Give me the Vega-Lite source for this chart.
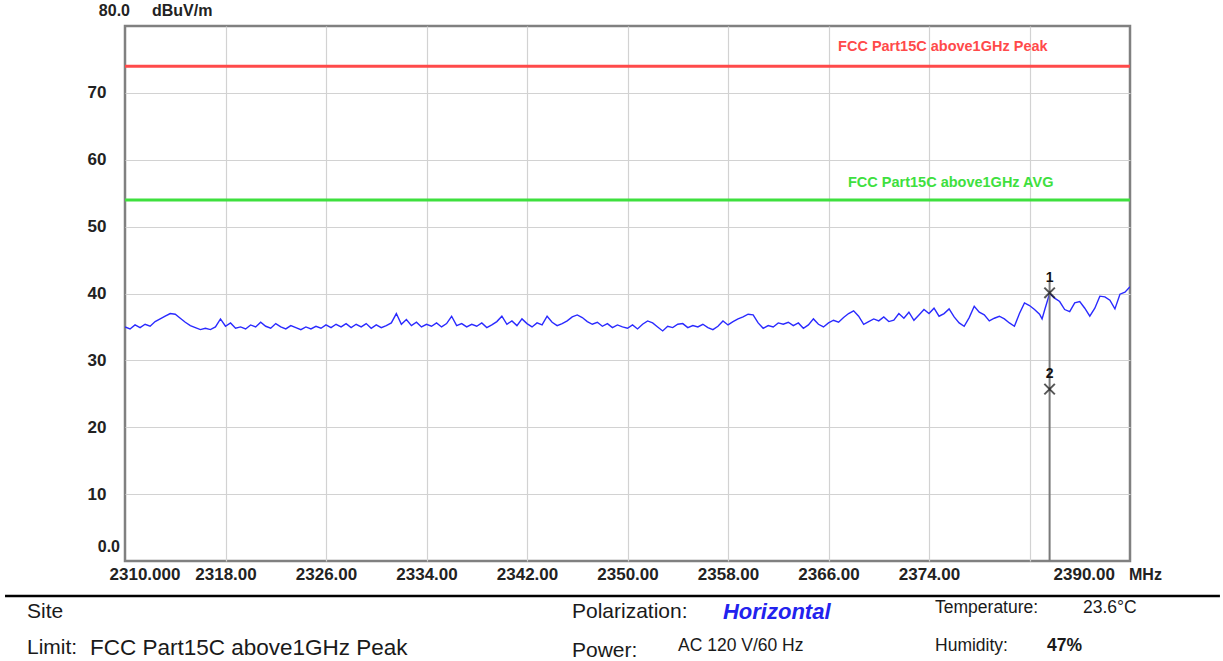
{
  "$schema": "https://vega.github.io/schema/vega-lite/v6.json",
  "autosize": "none",
  "width": 1005,
  "height": 535,
  "padding": {"left": 125, "top": 26, "right": 93, "bottom": 100},
  "background": "white",
  "config": {
    "view": {"stroke": "#808080", "strokeWidth": 2.5},
    "axis": {"domain": false, "ticks": false, "gridColor": "#d2d2d2", "gridWidth": 1.2, "labelFont": "Liberation Sans", "labelFontWeight": "bold", "labelFontSize": 17, "labelColor": "#222222", "title": null}
  },
  "datasets": {
    "trace": [
      {"f":2310.0,"v":35.0},{"f":2310.4,"v":34.7},{"f":2310.8,"v":35.3},{"f":2311.2,"v":34.9},{"f":2311.6,"v":35.4},{"f":2312.0,"v":35.1},{"f":2312.4,"v":35.8},{"f":2312.8,"v":36.2},{"f":2313.2,"v":36.6},{"f":2313.6,"v":37.0},
      {"f":2314.0,"v":36.9},{"f":2314.4,"v":36.3},{"f":2314.8,"v":35.7},{"f":2315.2,"v":35.2},{"f":2315.6,"v":34.9},{"f":2316.0,"v":34.6},{"f":2316.4,"v":34.8},{"f":2316.8,"v":34.6},{"f":2317.2,"v":35.0},{"f":2317.6,"v":36.2},
      {"f":2318.0,"v":35.1},{"f":2318.4,"v":35.6},{"f":2318.8,"v":34.8},{"f":2319.2,"v":35.0},{"f":2319.6,"v":34.7},{"f":2320.0,"v":35.3},{"f":2320.4,"v":35.0},{"f":2320.8,"v":35.7},{"f":2321.2,"v":35.1},{"f":2321.6,"v":34.8},
      {"f":2322.0,"v":35.5},{"f":2322.4,"v":35.0},{"f":2322.8,"v":34.7},{"f":2323.2,"v":35.2},{"f":2323.6,"v":34.9},{"f":2324.0,"v":34.6},{"f":2324.4,"v":35.0},{"f":2324.8,"v":34.7},{"f":2325.2,"v":35.1},{"f":2325.6,"v":34.8},
      {"f":2326.0,"v":35.3},{"f":2326.4,"v":34.9},{"f":2326.8,"v":35.4},{"f":2327.2,"v":35.0},{"f":2327.6,"v":35.5},{"f":2328.0,"v":34.9},{"f":2328.4,"v":35.4},{"f":2328.8,"v":35.0},{"f":2329.2,"v":35.5},{"f":2329.6,"v":34.8},
      {"f":2330.0,"v":35.3},{"f":2330.4,"v":34.9},{"f":2330.8,"v":35.2},{"f":2331.2,"v":35.6},{"f":2331.6,"v":37.0},{"f":2332.0,"v":35.4},{"f":2332.4,"v":36.1},{"f":2332.8,"v":35.2},{"f":2333.2,"v":35.7},{"f":2333.6,"v":35.0},
      {"f":2334.0,"v":35.4},{"f":2334.4,"v":35.1},{"f":2334.8,"v":35.6},{"f":2335.2,"v":35.0},{"f":2335.6,"v":35.5},{"f":2336.0,"v":36.6},{"f":2336.4,"v":35.2},{"f":2336.8,"v":35.5},{"f":2337.2,"v":35.0},{"f":2337.6,"v":35.4},
      {"f":2338.0,"v":35.1},{"f":2338.4,"v":35.6},{"f":2338.8,"v":34.9},{"f":2339.2,"v":35.3},{"f":2339.6,"v":35.8},{"f":2340.0,"v":36.6},{"f":2340.4,"v":35.4},{"f":2340.8,"v":35.9},{"f":2341.2,"v":35.2},{"f":2341.6,"v":36.2},
      {"f":2342.0,"v":35.5},{"f":2342.4,"v":35.0},{"f":2342.8,"v":35.6},{"f":2343.2,"v":35.3},{"f":2343.6,"v":36.6},{"f":2344.0,"v":35.7},{"f":2344.4,"v":35.2},{"f":2344.8,"v":35.5},{"f":2345.2,"v":35.9},{"f":2345.6,"v":36.5},
      {"f":2346.0,"v":36.8},{"f":2346.4,"v":36.4},{"f":2346.8,"v":35.8},{"f":2347.2,"v":35.4},{"f":2347.6,"v":35.7},{"f":2348.0,"v":35.1},{"f":2348.4,"v":35.5},{"f":2348.8,"v":34.9},{"f":2349.2,"v":35.3},{"f":2349.6,"v":35.0},
      {"f":2350.0,"v":34.8},{"f":2350.4,"v":35.3},{"f":2350.8,"v":34.7},{"f":2351.2,"v":35.4},{"f":2351.6,"v":35.9},{"f":2352.0,"v":35.6},{"f":2352.4,"v":35.0},{"f":2352.8,"v":34.4},{"f":2353.2,"v":35.1},{"f":2353.6,"v":34.9},
      {"f":2354.0,"v":35.4},{"f":2354.4,"v":35.5},{"f":2354.8,"v":34.9},{"f":2355.2,"v":35.2},{"f":2355.6,"v":35.0},{"f":2356.0,"v":35.4},{"f":2356.4,"v":34.9},{"f":2356.8,"v":34.6},{"f":2357.2,"v":35.1},{"f":2357.6,"v":35.9},
      {"f":2358.0,"v":35.3},{"f":2358.4,"v":35.8},{"f":2358.8,"v":36.2},{"f":2359.2,"v":36.5},{"f":2359.6,"v":36.9},{"f":2360.0,"v":36.8},{"f":2360.4,"v":35.6},{"f":2360.8,"v":34.8},{"f":2361.2,"v":35.2},{"f":2361.6,"v":35.0},
      {"f":2362.0,"v":35.6},{"f":2362.4,"v":35.4},{"f":2362.8,"v":35.7},{"f":2363.2,"v":35.2},{"f":2363.6,"v":35.6},{"f":2364.0,"v":34.8},{"f":2364.4,"v":35.3},{"f":2364.8,"v":36.2},{"f":2365.2,"v":35.4},{"f":2365.6,"v":35.0},
      {"f":2366.0,"v":35.6},{"f":2366.4,"v":36.0},{"f":2366.8,"v":35.7},{"f":2367.2,"v":36.4},{"f":2367.6,"v":37.0},{"f":2368.0,"v":37.4},{"f":2368.4,"v":36.6},{"f":2368.8,"v":35.4},{"f":2369.2,"v":35.8},{"f":2369.6,"v":36.2},
      {"f":2370.0,"v":35.9},{"f":2370.4,"v":36.5},{"f":2370.8,"v":35.8},{"f":2371.2,"v":36.0},{"f":2371.6,"v":37.0},{"f":2372.0,"v":36.3},{"f":2372.4,"v":37.2},{"f":2372.8,"v":36.0},{"f":2373.2,"v":36.8},{"f":2373.6,"v":37.6},
      {"f":2374.0,"v":37.0},{"f":2374.4,"v":37.8},{"f":2374.8,"v":36.6},{"f":2375.2,"v":37.0},{"f":2375.6,"v":37.7},{"f":2376.0,"v":36.5},{"f":2376.4,"v":35.6},{"f":2376.8,"v":35.1},{"f":2377.2,"v":36.4},{"f":2377.6,"v":38.1},
      {"f":2378.0,"v":37.2},{"f":2378.4,"v":36.8},{"f":2378.8,"v":35.9},{"f":2379.2,"v":36.3},{"f":2379.6,"v":36.6},{"f":2380.0,"v":36.2},{"f":2380.4,"v":35.6},{"f":2380.8,"v":35.1},{"f":2381.2,"v":37.0},{"f":2381.6,"v":38.6},
      {"f":2382.0,"v":38.2},{"f":2382.4,"v":37.6},{"f":2382.8,"v":36.9},{"f":2383.0,"v":36.2},{"f":2383.2,"v":37.5},{"f":2383.6,"v":40.0},{"f":2384.0,"v":39.3},{"f":2384.4,"v":38.8},{"f":2384.8,"v":37.6},{"f":2385.2,"v":37.3},
      {"f":2385.6,"v":38.6},{"f":2386.0,"v":38.8},{"f":2386.4,"v":37.8},{"f":2386.8,"v":36.6},{"f":2387.2,"v":37.8},{"f":2387.6,"v":39.6},{"f":2388.0,"v":39.5},{"f":2388.4,"v":39.0},{"f":2388.8,"v":37.7},{"f":2389.2,"v":39.9},
      {"f":2389.6,"v":40.2},{"f":2390.0,"v":41.0}
    ],
    "limits": [
      {"name": "FCC Part15C above1GHz Peak", "level": 74, "lf": 2366.76, "lv": 76.86},
      {"name": "FCC Part15C above1GHz AVG", "level": 54, "lf": 2367.55, "lv": 56.52}
    ],
    "markers": [
      {"id": "1", "f": 2383.6, "v": 40.1},
      {"id": "2", "f": 2383.6, "v": 25.7}
    ],
    "markerline": [{"f": 2383.6, "v0": 0, "v1": 41.8}],
    "corner": [
      {"t": "80.0", "f": 2310, "v": 80},
      {"t": "dBuV/m", "f": 2310, "v": 80},
      {"t": "0.0", "f": 2310, "v": 0},
      {"t": "2310.000", "f": 2310, "v": 0},
      {"t": "2390.00", "f": 2390, "v": 0},
      {"t": "MHz", "f": 2390, "v": 0}
    ],
    "sep": [{"f0": 2300.45, "f1": 2397.16, "v": -5.23}],
    "footBig": [
      {"t": "Site", "f": 2302.2, "v": -7.63},
      {"t": "Limit:", "f": 2302.2, "v": -13.0},
      {"t": "Polarization:", "f": 2345.58, "v": -7.63},
      {"t": "Power:", "f": 2345.58, "v": -13.45}
    ],
    "footLimit": [
      {"t": "FCC Part15C above1GHz Peak", "f": 2307.21, "v": -13.0}
    ],
    "footBlue": [{"t": "Horizontal", "f": 2357.6, "v": -7.63}],
    "footSmall": [
      {"t": "Temperature:", "f": 2374.48, "v": -7.03},
      {"t": "23.6°C", "f": 2386.26, "v": -7.03},
      {"t": "AC 120 V/60 Hz", "f": 2354.02, "v": -12.71},
      {"t": "Humidity:", "f": 2374.48, "v": -12.71}
    ],
    "footBold": [{"t": "47%", "f": 2383.39, "v": -12.71}]
  },
  "layer": [
    {
      "data": {"name": "trace"},
      "mark": {"type": "line", "color": "#2a2aff", "strokeWidth": 1.4, "clip": true},
      "encoding": {
        "x": {"field": "f", "type": "quantitative", "scale": {"domain": [2310, 2390], "nice": false, "zero": false},
          "axis": {"values": [2318, 2326, 2334, 2342, 2350, 2358, 2366, 2374, 2382], "labelExpr": "datum.value == 2382 ? '' : format(datum.value, '.2f')", "labelPadding": 5, "grid": true}},
        "y": {"field": "v", "type": "quantitative", "scale": {"domain": [0, 80], "nice": false, "zero": true},
          "axis": {"values": [10, 20, 30, 40, 50, 60, 70], "labelPadding": 19, "grid": true}}
      }
    },
    {
      "data": {"name": "limits"},
      "mark": {"type": "rule", "strokeWidth": 3},
      "encoding": {
        "y": {"field": "level", "type": "quantitative"},
        "color": {"field": "name", "type": "nominal", "scale": {"domain": ["FCC Part15C above1GHz Peak", "FCC Part15C above1GHz AVG"], "range": ["#ff4a4a", "#3ee03e"]}, "legend": null}
      }
    },
    {
      "data": {"name": "limits"},
      "mark": {"type": "text", "align": "left", "baseline": "middle", "font": "Liberation Sans", "fontWeight": "bold", "fontSize": 14.5},
      "encoding": {
        "x": {"field": "lf", "type": "quantitative"},
        "y": {"field": "lv", "type": "quantitative"},
        "text": {"field": "name"},
        "color": {"field": "name", "type": "nominal", "scale": {"domain": ["FCC Part15C above1GHz Peak", "FCC Part15C above1GHz AVG"], "range": ["#ff2a2a", "#22dd22"]}, "legend": null}
      }
    },
    {
      "data": {"name": "markerline"},
      "mark": {"type": "rule", "color": "#7a7a7a", "strokeWidth": 2},
      "encoding": {
        "x": {"field": "f", "type": "quantitative"},
        "y": {"field": "v0", "type": "quantitative"},
        "y2": {"field": "v1"}
      }
    },
    {
      "data": {"name": "markers"},
      "mark": {"type": "point", "shape": "M-1,-1L1,1M-1,1L1,-1", "size": 110, "stroke": "#111111", "strokeWidth": 2, "filled": false},
      "encoding": {
        "x": {"field": "f", "type": "quantitative"},
        "y": {"field": "v", "type": "quantitative"}
      }
    },
    {
      "data": {"name": "markers"},
      "mark": {"type": "text", "dy": -15, "font": "Liberation Sans", "fontWeight": "bold", "fontSize": 14, "color": "#111111", "baseline": "middle"},
      "encoding": {
        "x": {"field": "f", "type": "quantitative"},
        "y": {"field": "v", "type": "quantitative"},
        "text": {"field": "id"}
      }
    },
    {
      "data": {"name": "corner"},
      "transform": [{"filter": "datum.t == '80.0'"}],
      "mark": {"type": "text", "align": "right", "baseline": "middle", "dx": 5, "dy": -15, "font": "Liberation Sans", "fontWeight": "bold", "fontSize": 16, "color": "#222222"},
      "encoding": {"x": {"field": "f", "type": "quantitative"}, "y": {"field": "v", "type": "quantitative"}, "text": {"field": "t"}}
    },
    {
      "data": {"name": "corner"},
      "transform": [{"filter": "datum.t == 'dBuV/m'"}],
      "mark": {"type": "text", "align": "left", "baseline": "middle", "dx": 27, "dy": -15, "font": "Liberation Sans", "fontWeight": "bold", "fontSize": 16, "color": "#222222"},
      "encoding": {"x": {"field": "f", "type": "quantitative"}, "y": {"field": "v", "type": "quantitative"}, "text": {"field": "t"}}
    },
    {
      "data": {"name": "corner"},
      "transform": [{"filter": "datum.t == '0.0'"}],
      "mark": {"type": "text", "align": "right", "baseline": "middle", "dx": -5, "dy": -14, "font": "Liberation Sans", "fontWeight": "bold", "fontSize": 16, "color": "#222222"},
      "encoding": {"x": {"field": "f", "type": "quantitative"}, "y": {"field": "v", "type": "quantitative"}, "text": {"field": "t"}}
    },
    {
      "data": {"name": "corner"},
      "transform": [{"filter": "datum.t == '2310.000'"}],
      "mark": {"type": "text", "align": "center", "baseline": "middle", "dx": 20, "dy": 14, "font": "Liberation Sans", "fontWeight": "bold", "fontSize": 17, "color": "#222222"},
      "encoding": {"x": {"field": "f", "type": "quantitative"}, "y": {"field": "v", "type": "quantitative"}, "text": {"field": "t"}}
    },
    {
      "data": {"name": "corner"},
      "transform": [{"filter": "datum.t == '2390.00'"}],
      "mark": {"type": "text", "align": "right", "baseline": "middle", "dx": -15, "dy": 14, "font": "Liberation Sans", "fontWeight": "bold", "fontSize": 17, "color": "#222222"},
      "encoding": {"x": {"field": "f", "type": "quantitative"}, "y": {"field": "v", "type": "quantitative"}, "text": {"field": "t"}}
    },
    {
      "data": {"name": "corner"},
      "transform": [{"filter": "datum.t == 'MHz'"}],
      "mark": {"type": "text", "align": "left", "baseline": "middle", "dx": -1, "dy": 14, "font": "Liberation Sans", "fontWeight": "bold", "fontSize": 16, "color": "#222222"},
      "encoding": {"x": {"field": "f", "type": "quantitative"}, "y": {"field": "v", "type": "quantitative"}, "text": {"field": "t"}}
    },
    {
      "data": {"name": "sep"},
      "mark": {"type": "rule", "color": "#000000", "strokeWidth": 2.5},
      "encoding": {
        "x": {"field": "f0", "type": "quantitative"},
        "x2": {"field": "f1"},
        "y": {"field": "v", "type": "quantitative"}
      }
    },
    {
      "data": {"name": "footBig"},
      "mark": {"type": "text", "align": "left", "baseline": "middle", "font": "Liberation Sans", "fontSize": 21, "color": "#1a1a1a"},
      "encoding": {"x": {"field": "f", "type": "quantitative"}, "y": {"field": "v", "type": "quantitative"}, "text": {"field": "t"}}
    },
    {
      "data": {"name": "footLimit"},
      "mark": {"type": "text", "align": "left", "baseline": "middle", "font": "Liberation Sans", "fontSize": 22.5, "color": "#1a1a1a"},
      "encoding": {"x": {"field": "f", "type": "quantitative"}, "y": {"field": "v", "type": "quantitative"}, "text": {"field": "t"}}
    },
    {
      "data": {"name": "footBlue"},
      "mark": {"type": "text", "align": "left", "baseline": "middle", "font": "Liberation Sans", "fontSize": 22, "fontWeight": "bold", "fontStyle": "italic", "color": "#2222ee"},
      "encoding": {"x": {"field": "f", "type": "quantitative"}, "y": {"field": "v", "type": "quantitative"}, "text": {"field": "t"}}
    },
    {
      "data": {"name": "footSmall"},
      "mark": {"type": "text", "align": "left", "baseline": "middle", "font": "Liberation Sans", "fontSize": 17.5, "color": "#1a1a1a"},
      "encoding": {"x": {"field": "f", "type": "quantitative"}, "y": {"field": "v", "type": "quantitative"}, "text": {"field": "t"}}
    },
    {
      "data": {"name": "footBold"},
      "mark": {"type": "text", "align": "left", "baseline": "middle", "font": "Liberation Sans", "fontSize": 17.5, "fontWeight": "bold", "color": "#1a1a1a"},
      "encoding": {"x": {"field": "f", "type": "quantitative"}, "y": {"field": "v", "type": "quantitative"}, "text": {"field": "t"}}
    }
  ]
}
